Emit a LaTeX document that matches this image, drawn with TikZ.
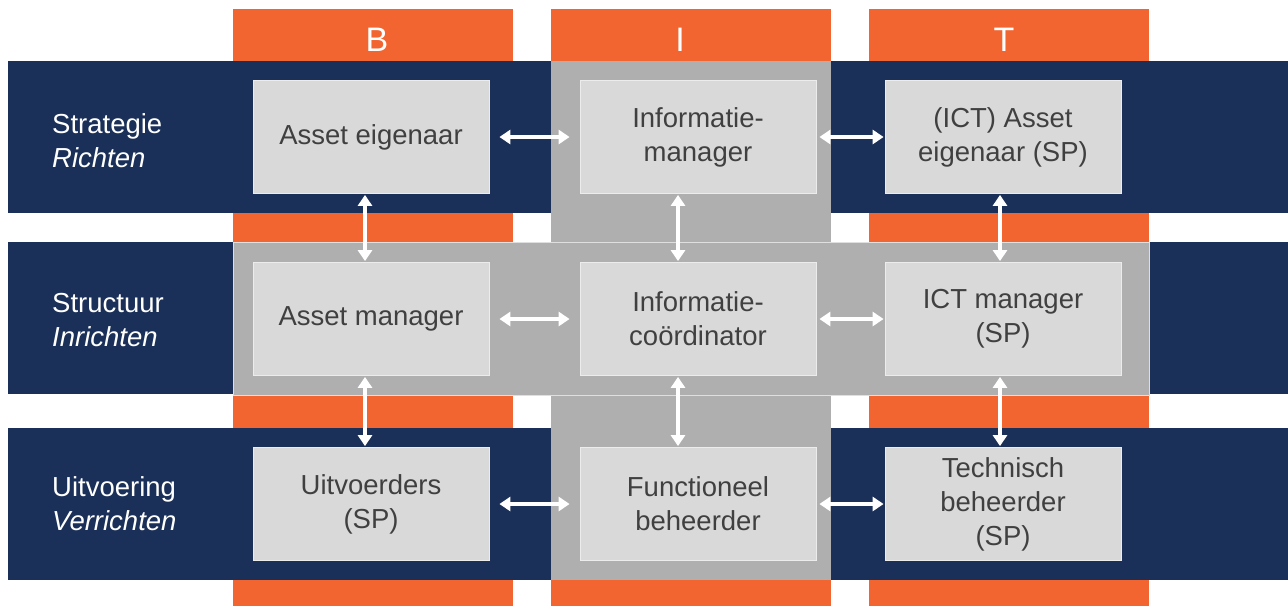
\documentclass[tikz,border=0pt]{standalone}
\usepackage{fontspec}
\setmainfont{Liberation Sans}
\usetikzlibrary{arrows.meta}

\definecolor{bitnavy}{HTML}{1B3058}
\definecolor{bitorange}{HTML}{F26430}
\definecolor{bitgray}{HTML}{AFAFAF}
\definecolor{boxgray}{HTML}{D9D9D9}
\definecolor{textgray}{HTML}{404040}

\tikzset{
  role/.style={fill=boxgray, draw=boxgray!50!white, line width=0.8pt,
    minimum width=236pt, minimum height=113pt, inner sep=0pt,
    align=center, text=textgray, font=\fontsize{27.5}{34}\selectfont},
  layer/.style={anchor=west, align=left, inner sep=0pt, text=white,
    font=\fontsize{27.5}{34}\selectfont},
  letter/.style={text=white, inner sep=0pt, font=\fontsize{34}{40}\selectfont},
  link/.style={white, line width=3.4pt,
    {Triangle[length=11pt,width=14pt]}-{Triangle[length=11pt,width=14pt]}}
}

\begin{document}
\begin{tikzpicture}[x=1pt, y=-1pt]

    % Fix the page size
    \useasboundingbox (0, 0) rectangle (1288, 606);

    % Draw orange columns
    \foreach \x in {233, 551, 869}{
      \fill[bitorange] (\x, 9) rectangle (\x + 280, 606);
    }

    % Draw navy rows
    \foreach \y in {61, 242, 428}{
      \fill[bitnavy] (8, \y) rectangle (1288, \y + 152);
    }

    % Draw grey I column and grey middle row
    \fill[bitgray] (551, 61) rectangle (831, 580);
    \filldraw[fill=bitgray, draw=bitgray!40!white, line width=0.8pt]
      (233, 242) rectangle (1149, 395);

    % Column letters
    \node[letter] (b) at (377, 40) {B};
    \node[letter] (i) at (680, 40) {I};
    \node[letter] (t) at (1004, 40) {T};

    % Row labels
    \node[layer] (strategie) at (52, 141) {Strategie\\\textit{Richten}};
    \node[layer] (structuur) at (52, 320) {Structuur\\\textit{Inrichten}};
    \node[layer] (uitvoering) at (52, 504) {Uitvoering\\\textit{Verrichten}};

    % Roles
    \node[role] (eigenaar) at (371, 137) {Asset eigenaar};
    \node[role] (infomanager) at (698, 137) {Informatie-\\manager};
    \node[role] (icteigenaar) at (1003, 137) {(ICT) Asset\\eigenaar (SP)};
    \node[role] (assetmanager) at (371, 319) {Asset manager};
    \node[role] (infocoord) at (698, 319) {Informatie-\\coördinator};
    \node[role] (ictmanager) at (1003, 319) {ICT manager\\(SP)};
    \node[role] (uitvoerders) at (371, 504) {Uitvoerders\\(SP)};
    \node[role] (functioneel) at (698, 504) {Functioneel\\beheerder};
    \node[role] (technisch) at (1003, 504) {Technisch\\beheerder\\(SP)};

    % Horizontal links (B to I leave a gap, I to T nearly touch)
    \foreach \a/\b in {eigenaar/infomanager, assetmanager/infocoord,
      uitvoerders/functioneel}{
      \draw[link, shorten <=10pt, shorten >=10pt] (\a) -- (\b);
    }
    \foreach \a/\b in {infomanager/icteigenaar, infocoord/ictmanager,
      functioneel/technisch}{
      \draw[link, shorten <=3pt, shorten >=1pt] (\a) -- (\b);
    }

    % Vertical links
    \foreach \a/\b/\s in {eigenaar/assetmanager/-6, assetmanager/uitvoerders/-6,
      infomanager/infocoord/-20, infocoord/functioneel/-20,
      icteigenaar/ictmanager/-3, ictmanager/technisch/-3}{
      \draw[link, shorten <=1pt, shorten >=1pt]
        ([xshift=\s pt]\a.south) -- ([xshift=\s pt]\b.north);
    }

  \end{tikzpicture}
\end{document}
